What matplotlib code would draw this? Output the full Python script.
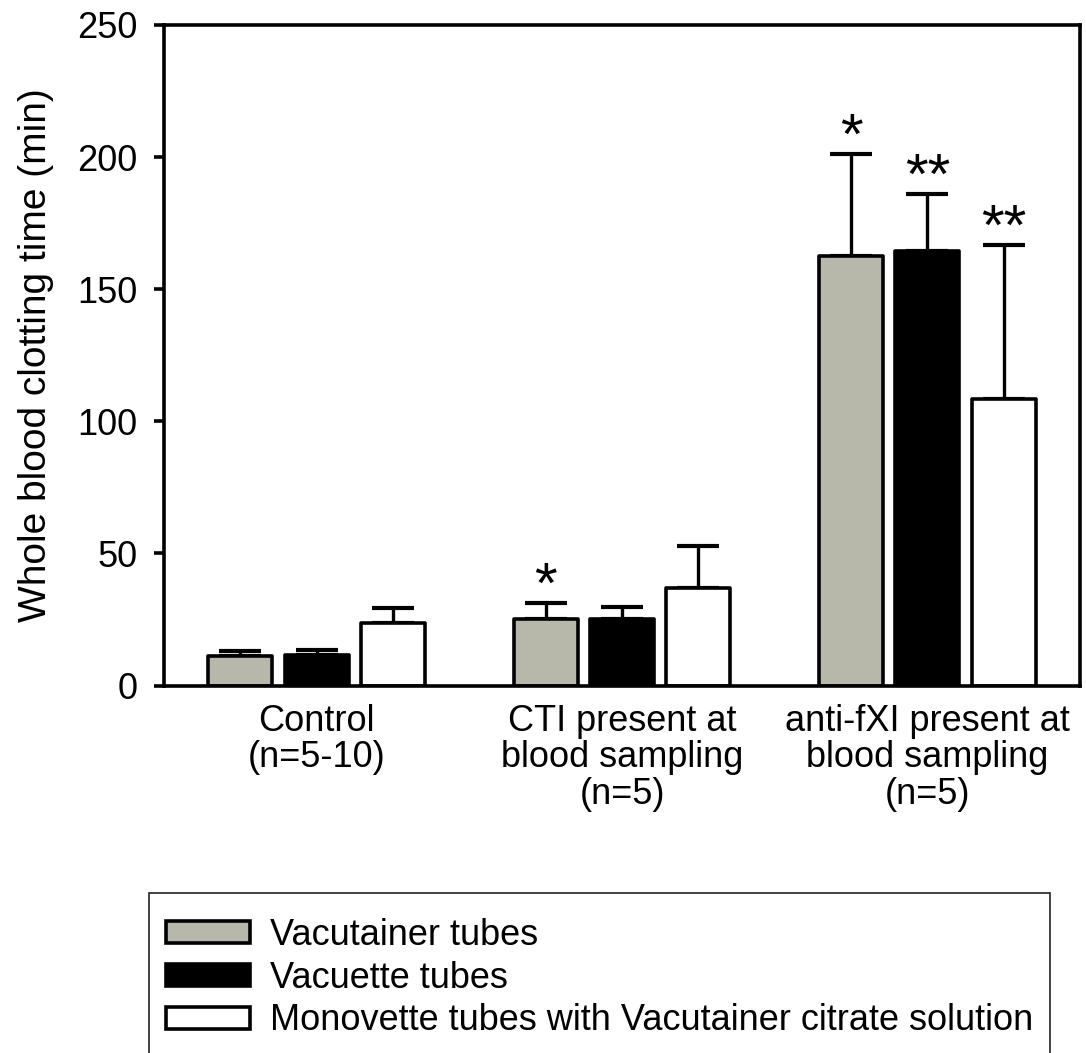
import matplotlib
matplotlib.use("Agg")
import matplotlib.pyplot as plt
import numpy as np
from matplotlib.patches import Rectangle

plt.rcParams["font.family"] = ["Liberation Sans", "DejaVu Sans"]

# ---- data ----
groups = ["Control\n(n=5-10)",
          "CTI present at\nblood sampling\n(n=5)",
          "anti-fXI present at\nblood sampling\n(n=5)"]
series = ["Vacutainer tubes",
          "Vacuette tubes",
          "Monovette tubes with Vacutainer citrate solution"]
vacutainer = [11.0, 25.0, 162.6]
vacuette = [11.7, 25.2, 164.5]
monovette = [23.5, 36.9, 108.3]
vacutainer_err = [1.9, 6.2, 38.5]
vacuette_err = [1.6, 4.5, 21.5]
monovette_err = [5.8, 15.8, 58.6]
vacutainer_sig = ["", "*", "*"]
vacuette_sig = ["", "", "**"]
monovette_sig = ["", "", "**"]

colors = ["#b7b7aa", "#000000", "#ffffff"]

fig = plt.figure(figsize=(10.86, 10.53), dpi=100)
ax = fig.add_axes([0.151, 0.349, 0.8435, 0.6273])

x = np.arange(len(groups))
width = 0.21
step = 0.25
means = [vacutainer, vacuette, monovette]
errs = [vacutainer_err, vacuette_err, monovette_err]
sigs = [vacutainer_sig, vacuette_sig, monovette_sig]

for i, (m, e, s) in enumerate(zip(means, errs, sigs)):
    xi = x + (i - 1) * step
    ax.bar(xi, m, width, color=colors[i], edgecolor="black", linewidth=2.6,
           label=series[i], zorder=2, joinstyle="round")
    ax.errorbar(xi, m, yerr=[np.zeros(len(m)), e], fmt="none", ecolor="black",
                elinewidth=2.4, capsize=15, capthick=3.0, zorder=1)
    for xx, mm, ee, ss in zip(xi, m, e, s):
        if ss:
            ax.annotate(ss, xy=(xx, mm + ee), xytext=(0, 0), textcoords="offset points",
                        ha="center", va="baseline", fontsize=42)

ax.set_xlim(-0.5, 2.5)
ax.set_ylim(0, 250)
ax.set_yticks([0, 50, 100, 150, 200, 250])
ax.set_xticks(x)
ax.set_xticklabels(groups, fontsize=26, linespacing=1.06)
ax.tick_params(axis="y", direction="out", length=7, width=2.6, labelsize=26, pad=12)
ax.tick_params(axis="x", length=0, pad=13)
for sp in ax.spines.values():
    sp.set_linewidth(2.6)
ax.set_ylabel("Whole blood clotting time (min)", fontsize=28, labelpad=17)

# legend with a frame that runs off the bottom edge
fig.legend(loc="upper left", bbox_to_anchor=(0.1529, 0.1286), frameon=False,
           fontsize=26, handlelength=2.33, handleheight=0.56, handletextpad=0.56,
           labelspacing=0.22, borderpad=0, borderaxespad=0)
fig.patches.append(Rectangle((0.1372, -0.05), 0.8297, 0.2020, transform=fig.transFigure,
                             fill=False, edgecolor="#222222", linewidth=1.2))

fig.savefig("out.png", dpi=100)
